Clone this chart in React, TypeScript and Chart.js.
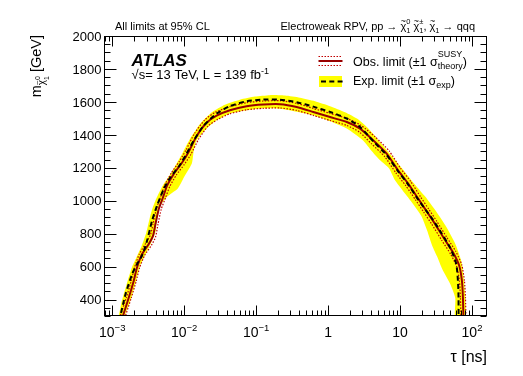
import React, { useEffect, useRef } from "react";
import { Chart, registerables } from "chart.js";
Chart.register(...registerables);

const FONT = '"Liberation Sans", Arial, Helvetica, sans-serif';

// Axis ranges
const X_MIN = 0.000769;
const X_MAX = 161.6;
const Y_MIN = 300;
const Y_MAX = 2000;

// Tick labels
const yTickValues = [400, 600, 800, 1000, 1200, 1400, 1600, 1800, 2000];
const xTickValues = [0.001, 0.01, 0.1, 1, 10, 100];
const xTickBase = ["10", "10", "10", "1", "10", "10"];
const xTickExp = ["\u22123", "\u22122", "\u22121", "", "", "2"];

// Expected limit (black dashed)
const expTau = [0.00125, 0.00153, 0.00189, 0.00221, 0.0026, 0.00305, 0.00358, 0.0042, 0.00521, 0.00646, 0.0087, 0.01072, 0.01362, 0.01835, 0.0282, 0.0432, 0.0738, 0.1256, 0.2145, 0.366, 0.623, 1.065, 1.818, 2.784, 4.264, 6.553, 9.41, 12.97, 17.86, 23.08, 27.98, 37.34, 49.81, 60.37, 63.76, 65.0, 65.0];
const expMass = [270, 432, 554, 615, 666, 757, 879, 970, 1072, 1143, 1217, 1284, 1366, 1452, 1529, 1574, 1604, 1614, 1613, 1598, 1571, 1539, 1499, 1448, 1360, 1275, 1178, 1098, 1007, 940, 891, 806, 714, 617, 513, 410, 270];

// Observed limit (dark red solid)
const obsTau = [0.00134, 0.0017, 0.00199, 0.00221, 0.0026, 0.00322, 0.0037, 0.00399, 0.00444, 0.00509, 0.00579, 0.00718, 0.00928, 0.01142, 0.01485, 0.0205, 0.0282, 0.0432, 0.0738, 0.1256, 0.2145, 0.366, 0.623, 1.065, 1.818, 2.784, 4.264, 6.553, 9.41, 12.97, 17.86, 23.08, 29.83, 41.1, 54.84, 66.45, 72.47, 74.83, 76.27];
const obsMass = [270, 412, 513, 594, 676, 737, 788, 859, 950, 1021, 1092, 1163, 1229, 1293, 1391, 1473, 1516, 1549, 1574, 1584, 1586, 1569, 1539, 1508, 1478, 1438, 1366, 1285, 1184, 1104, 1013, 940, 867, 769, 684, 605, 513, 410, 270];

// Observed +1 sigma theory (dotted)
const obsUpTau = [0.00123, 0.00157, 0.00184, 0.00204, 0.00238, 0.00293, 0.00341, 0.00369, 0.0041, 0.00469, 0.00533, 0.00663, 0.00856, 0.01054, 0.01384, 0.01938, 0.0271, 0.0432, 0.0738, 0.1256, 0.2145, 0.366, 0.623, 1.065, 1.818, 2.829, 4.503, 7.053, 10.2, 14.05, 19.35, 25.01, 32.31, 44.52, 59.41, 72.0, 78.52, 81.08, 82.66];
const obsUpMass = [270, 412, 513, 594, 676, 742, 794, 859, 950, 1021, 1092, 1168, 1238, 1306, 1406, 1491, 1537, 1571, 1595, 1605, 1607, 1591, 1560, 1530, 1500, 1459, 1388, 1302, 1196, 1117, 1022, 949, 876, 778, 693, 611, 513, 410, 270];

// Observed -1 sigma theory (dotted)
const obsDnTau = [0.00145, 0.00184, 0.00216, 0.0024, 0.00283, 0.00352, 0.00401, 0.00433, 0.00481, 0.00552, 0.00631, 0.00778, 0.01005, 0.01238, 0.016, 0.0217, 0.0294, 0.0432, 0.0738, 0.1256, 0.2145, 0.366, 0.623, 1.065, 1.818, 2.741, 4.024, 6.107, 8.685, 11.97, 16.49, 21.31, 27.54, 37.93, 50.62, 61.35, 66.9, 69.08, 70.42];
const obsDnMass = [270, 410, 513, 593, 669, 730, 781, 858, 949, 1019, 1086, 1156, 1220, 1281, 1376, 1455, 1494, 1528, 1552, 1561, 1563, 1548, 1518, 1487, 1457, 1416, 1345, 1268, 1171, 1092, 1004, 931, 858, 760, 675, 599, 513, 410, 270];

// Expected +-1 sigma band: outer edge (left to right), inner edge (right to left)
const bandOuterTau = [0.00117, 0.00123, 0.00136, 0.00159, 0.00187, 0.00216, 0.00257, 0.00297, 0.00333, 0.00366, 0.00416, 0.00505, 0.00612, 0.00778, 0.00958, 0.01198, 0.01651, 0.02426, 0.0368, 0.0595, 0.0962, 0.1556, 0.2517, 0.4071, 0.658, 1.065, 1.722, 2.612, 3.837, 5.458, 7.764, 10.7, 15.22, 22.36, 31.81, 43.83, 58.48, 70.88, 76.79, 80.54, 80.54];
const bandOuterMass = [270, 300, 391, 495, 593, 653, 727, 806, 897, 958, 1019, 1092, 1147, 1223, 1293, 1373, 1464, 1537, 1583, 1613, 1632, 1641, 1638, 1625, 1604, 1574, 1537, 1494, 1427, 1348, 1269, 1196, 1111, 1025, 934, 842, 739, 635, 525, 416, 270];
const bandInnerTau = [58.48, 58.48, 49.81, 38.55, 32.84, 27.98, 23.84, 19.67, 12.97, 8.547, 7.053, 5.287, 4.089, 3.065, 1.818, 1.065, 0.623, 0.366, 0.2145, 0.1256, 0.0738, 0.0432, 0.0282, 0.0205, 0.01485, 0.01362, 0.01278, 0.00989, 0.00816, 0.00573, 0.00451, 0.00416, 0.00403, 0.00343, 0.00274, 0.00238, 0.00209, 0.00178, 0.00149, 0.00145];
const bandInnerMass = [270, 410, 495, 586, 660, 727, 818, 909, 1019, 1123, 1196, 1245, 1299, 1366, 1438, 1482, 1519, 1540, 1558, 1561, 1549, 1529, 1488, 1438, 1366, 1306, 1226, 1141, 1074, 1022, 958, 897, 818, 739, 653, 593, 495, 391, 300, 270];

const OBS_COLOR = "#990000";
const OBS_DOT_COLOR = "#c00000";
const BAND_COLOR = "#ffff00";

type Part = {
  t?: string;
  s: number;
  dy?: number;
  style?: string;
  sup?: string;
  sub?: string;
  supDy?: number;
  subDy?: number;
  tilde?: boolean;
  stack?: boolean;
};

function partWidth(ctx: CanvasRenderingContext2D, p: Part): number {
  if (p.stack) {
    ctx.font = `${p.s}px ${FONT}`;
    return Math.max(ctx.measureText(p.sup || "").width, ctx.measureText(p.sub || "").width);
  }
  ctx.font = `${p.style || ""} ${p.s}px ${FONT}`;
  return ctx.measureText(p.t || "").width;
}

function drawParts(ctx: CanvasRenderingContext2D, x: number, y: number, parts: Part[], align: "left" | "right" | "center") {
  ctx.textAlign = "left";
  ctx.textBaseline = "alphabetic";
  const ws = parts.map((p) => partWidth(ctx, p));
  const total = ws.reduce((a, b) => a + b, 0);
  let cx = align === "left" ? x : align === "right" ? x - total : x - total / 2;
  parts.forEach((p, i) => {
    if (p.stack) {
      ctx.font = `${p.s}px ${FONT}`;
      if (p.sup) ctx.fillText(p.sup, cx, y + (p.supDy ?? 0));
      if (p.sub) ctx.fillText(p.sub, cx, y + (p.subDy ?? 0));
    } else {
      ctx.font = `${p.style || ""} ${p.s}px ${FONT}`;
      ctx.fillText(p.t || "", cx, y + (p.dy ?? 0));
      if (p.tilde) {
        ctx.font = `${p.s * 0.8}px ${FONT}`;
        const tw = ctx.measureText("~").width;
        ctx.fillText("~", cx + ws[i] / 2 - tw / 2, y + (p.dy ?? 0) - p.s * 0.5);
      }
    }
    cx += ws[i];
  });
}

function seg(ctx: CanvasRenderingContext2D, x1: number, y1: number, x2: number, y2: number) {
  ctx.beginPath();
  ctx.moveTo(x1, y1);
  ctx.lineTo(x2, y2);
  ctx.stroke();
}

const overlay = {
  id: "overlay",
  afterDraw(chart: any) {
    const ctx: CanvasRenderingContext2D = chart.ctx;
    const { left, right, top, bottom } = chart.chartArea;
    const xs = chart.scales.x;
    const ys = chart.scales.y;
    ctx.save();
    ctx.strokeStyle = "#000";
    ctx.fillStyle = "#000";
    ctx.lineWidth = 1;
    ctx.setLineDash([]);
    const L = Math.round(left) + 0.5;
    const R = Math.round(right) - 0.5;
    const T = Math.round(top) + 0.5;
    const B = Math.round(bottom) - 0.5;
    ctx.strokeRect(L, T, R - L, B - T);

    // y ticks
    for (let v = Y_MIN; v <= Y_MAX; v += 50) {
      const py = Math.round(ys.getPixelForValue(v)) + 0.5;
      const len = v % 200 === 0 ? 12 : 6;
      seg(ctx, L, py, L + len, py);
      seg(ctx, R, py, R - len, py);
    }
    // x ticks
    for (let e = -4; e <= 2; e++) {
      for (let k = 1; k <= 9; k++) {
        const v = k * Math.pow(10, e);
        if (v < xs.min || v > xs.max) continue;
        const px = Math.round(xs.getPixelForValue(v)) + 0.5;
        const len = k === 1 ? 10 : 5;
        seg(ctx, px, B, px, B - len);
        seg(ctx, px, T, px, T + len);
      }
    }

    // y tick labels
    ctx.font = `13px ${FONT}`;
    ctx.textAlign = "right";
    ctx.textBaseline = "alphabetic";
    yTickValues.forEach((v) => {
      const py = ys.getPixelForValue(v);
      ctx.fillText(String(v), left - 2.5, py + 4.7);
    });

    // x tick labels
    xTickValues.forEach((v, i) => {
      const px = xs.getPixelForValue(v);
      const parts: Part[] = [{ t: xTickBase[i], s: 14 }];
      if (xTickExp[i]) parts.push({ t: xTickExp[i], s: 9.5, dy: -6.5 });
      drawParts(ctx, px, 337, parts, "center");
    });

    // axis titles
    drawParts(ctx, right, 362, [{ t: "\u03c4 [ns]", s: 16 }], "right");
    ctx.save();
    ctx.translate(41, top - 1);
    ctx.rotate(-Math.PI / 2);
    drawParts(
      ctx,
      0,
      0,
      [
        { t: "m", s: 14.5 },
        { t: "\u03c7", s: 10, dy: 4, tilde: true },
        { stack: true, sup: "0", sub: "1", s: 7, supDy: -1, subDy: 7.5 },
        { t: " [GeV]", s: 14.5 },
      ],
      "right"
    );
    ctx.restore();

    // header texts
    drawParts(ctx, 115, 29.5, [{ t: "All limits at 95% CL", s: 11 }], "left");
    drawParts(
      ctx,
      475,
      29.5,
      [
        { t: "Electroweak RPV, pp \u2192 ", s: 11 },
        { t: "\u03c7", s: 11, tilde: true },
        { stack: true, sup: "0", sub: "1", s: 7.5, supDy: -6, subDy: 3 },
        { t: " ", s: 11 },
        { t: "\u03c7", s: 11, tilde: true },
        { stack: true, sup: "\u00b1", sub: "1", s: 7.5, supDy: -6, subDy: 3 },
        { t: ", ", s: 11 },
        { t: "\u03c7", s: 11, tilde: true },
        { stack: true, sub: "1", s: 7.5, subDy: 3 },
        { t: " \u2192 qqq", s: 11 },
      ],
      "right"
    );

    // ATLAS label
    drawParts(ctx, 131.5, 66, [{ t: "ATLAS", s: 17, style: "italic bold" }], "left");
    drawParts(
      ctx,
      131.5,
      79,
      [
        { t: "\u221as= 13 TeV, L = 139 fb", s: 13 },
        { t: "-1", s: 9, dy: -5.5 },
      ],
      "left"
    );

    // legend
    const lx1 = 318.5;
    const lx2 = 342.5;
    // obs row
    ctx.strokeStyle = OBS_DOT_COLOR;
    ctx.lineWidth = 1;
    ctx.setLineDash([1.5, 1.5]);
    seg(ctx, lx1, 56.5, lx2, 56.5);
    seg(ctx, lx1, 65.5, lx2, 65.5);
    ctx.setLineDash([]);
    ctx.strokeStyle = OBS_COLOR;
    ctx.lineWidth = 2;
    seg(ctx, lx1, 61, lx2, 61);
    ctx.fillStyle = "#000";
    drawParts(
      ctx,
      353,
      65.7,
      [
        { t: "Obs. limit (\u00b11 ", s: 12.5 },
        { t: "\u03c3", s: 12.5 },
        { stack: true, sup: "SUSY", sub: "theory", s: 9, supDy: -8.5, subDy: 3.5 },
        { t: ")", s: 12.5 },
      ],
      "left"
    );
    // exp row
    ctx.fillStyle = BAND_COLOR;
    ctx.fillRect(319, 76, 23, 11);
    ctx.strokeStyle = "#000";
    ctx.lineWidth = 2;
    ctx.setLineDash([5, 3.3]);
    seg(ctx, 321, 81.5, 343, 81.5);
    ctx.setLineDash([]);
    ctx.fillStyle = "#000";
    drawParts(
      ctx,
      353,
      85,
      [
        { t: "Exp. limit (\u00b11 ", s: 12.5 },
        { t: "\u03c3", s: 12.5 },
        { stack: true, sub: "exp", s: 9, subDy: 3 },
        { t: ")", s: 12.5 },
      ],
      "left"
    );
    ctx.restore();
  },
};

export default function App() {
  const ref = useRef<HTMLCanvasElement>(null);
  useEffect(() => {
    const canvas = ref.current;
    if (!canvas) return;
    const toPts = (xs: number[], ys: number[]) => xs.map((x, i) => ({ x, y: ys[i] }));
    const bandPts = [...toPts(bandOuterTau, bandOuterMass), ...toPts(bandInnerTau, bandInnerMass)];
    const common = { showLine: true, pointRadius: 0, pointHoverRadius: 0, tension: 0.2, clip: 0 };
    const chart = new Chart(canvas, {
      type: "scatter",
      data: {
        datasets: [
          { ...common, label: "Exp. limit", data: toPts(expTau, expMass), borderColor: "#000", borderWidth: 2, borderDash: [5, 3.3], fill: false, order: 0 },
          { ...common, label: "Obs. limit", data: toPts(obsTau, obsMass), borderColor: OBS_COLOR, borderWidth: 2, fill: false, order: 1 },
          { ...common, label: "Obs. +1 sigma", data: toPts(obsUpTau, obsUpMass), borderColor: OBS_DOT_COLOR, borderWidth: 1.2, borderDash: [1.5, 1.5], fill: false, order: 2 },
          { ...common, label: "Obs. -1 sigma", data: toPts(obsDnTau, obsDnMass), borderColor: OBS_DOT_COLOR, borderWidth: 1.2, borderDash: [1.5, 1.5], fill: false, order: 2 },
          { ...common, label: "Exp. band", data: bandPts, borderColor: "rgba(0,0,0,0)", borderWidth: 0, backgroundColor: BAND_COLOR, fill: "shape", order: 3 },
        ] as any,
      },
      options: {
        responsive: false,
        animation: false,
        devicePixelRatio: 1,
        events: [],
        layout: { padding: { left: 104, right: 36, top: 36, bottom: 60 } },
        scales: {
          x: { type: "logarithmic", min: X_MIN, max: X_MAX, bounds: "data", display: false },
          y: { type: "linear", min: Y_MIN, max: Y_MAX, display: false },
        },
        plugins: { legend: { display: false }, tooltip: { enabled: false } },
      } as any,
      plugins: [overlay],
    });
    return () => chart.destroy();
  }, []);
  return (
    <div style={{ position: "fixed", left: 0, top: 0, width: 523, height: 376, background: "#fff" }}>
      <canvas ref={ref} width={523} height={376} style={{ display: "block", width: 523, height: 376 }} />
    </div>
  );
}
